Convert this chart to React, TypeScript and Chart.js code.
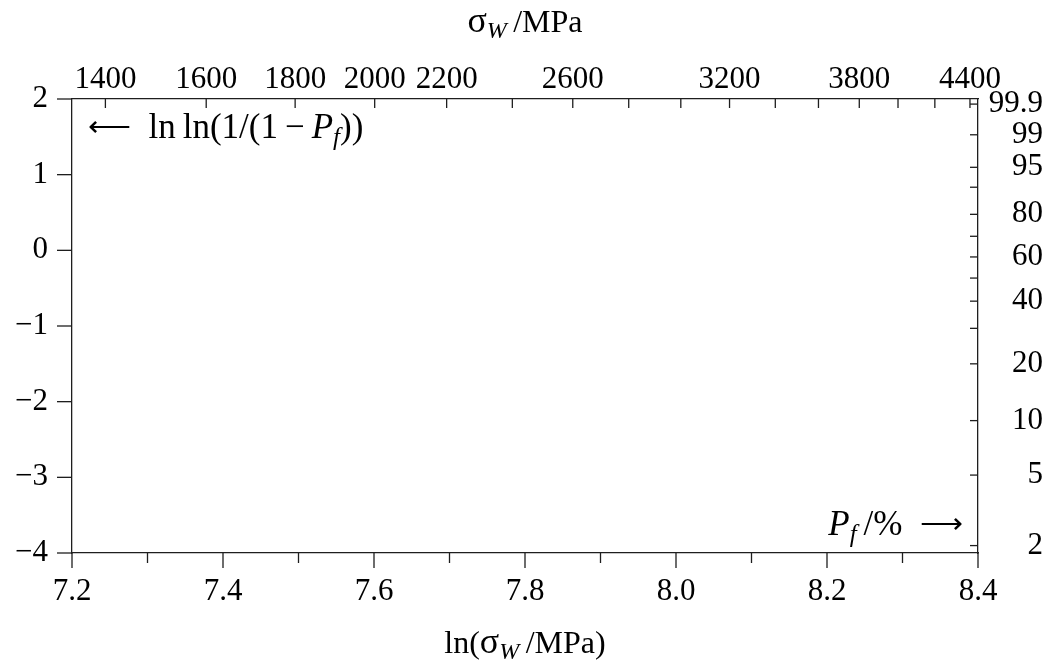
import React, { useEffect, useRef } from 'react';
import { Chart, registerables } from 'chart.js';

Chart.register(...registerables);

// Bottom axis: ln(σ_W / MPa)
const lnSigmaRange = [7.2, 8.4];
const lnSigmaMajorTicks = [7.2, 7.4, 7.6, 7.8, 8.0, 8.2, 8.4];
const lnSigmaMinorTicks = [7.3, 7.5, 7.7, 7.9, 8.1, 8.3];

// Left axis: ln ln(1/(1 - P_f))
const lnlnRange = [-4, 2];
const lnlnTicks = [-4, -3, -2, -1, 0, 1, 2];

// Top axis: σ_W / MPa
const sigmaTicks = [1400, 1600, 1800, 2000, 2200, 2400, 2600, 2800, 3000, 3200, 3400, 3600, 3800, 4000, 4200, 4400];
const sigmaLabels = [1400, 1600, 1800, 2000, 2200, 2600, 3200, 3800, 4400];

// Right axis: P_f / %
const probTicks = [2, 5, 10, 20, 30, 40, 50, 60, 70, 80, 90, 95, 99, 99.9];
const probLabels = [2, 5, 10, 20, 40, 60, 80, 95, 99, 99.9];

const FONT = "'Liberation Serif', 'Times New Roman', Times, serif";
const LINE = '#1e1e1e';
const FS = 31;

const toLnln = (p: number) => Math.log(Math.log(1 / (1 - p / 100)));

type Part = { t: string; it?: boolean; sub?: boolean; size?: number; dy?: number };

function drawRich(ctx: CanvasRenderingContext2D, parts: Part[], x: number, y: number, align: 'left' | 'center' | 'right', size: number, subScale = 0.72) {
  const sz = (p: Part) => p.size ?? (p.sub ? Math.round(size * subScale) : size);
  const fontFor = (p: Part) => `${p.it ? 'italic ' : ''}${sz(p)}px ${FONT}`;
  let w = 0;
  for (const p of parts) {
    ctx.font = fontFor(p);
    w += ctx.measureText(p.t).width;
  }
  let cx = align === 'left' ? x : align === 'center' ? x - w / 2 : x - w;
  ctx.textAlign = 'left';
  ctx.textBaseline = 'alphabetic';
  ctx.fillStyle = '#000';
  for (const p of parts) {
    ctx.font = fontFor(p);
    ctx.fillText(p.t, cx, y + (p.sub ? size * 0.2 : 0) + (p.dy ?? 0));
    cx += ctx.measureText(p.t).width;
  }
}

const decorPlugin = {
  id: 'decor',
  afterDraw(chart: any) {
    const { ctx, chartArea: ca, scales } = chart;
    ctx.save();
    ctx.strokeStyle = LINE;
    ctx.lineWidth = 1.3;
    const line = (x0: number, y0: number, x1: number, y1: number) => {
      ctx.beginPath();
      ctx.moveTo(x0, y0);
      ctx.lineTo(x1, y1);
      ctx.stroke();
    };
    // left ticks (outward)
    for (const v of lnlnTicks) {
      const y = scales.y.getPixelForValue(v);
      line(ca.left - 15, y, ca.left, y);
    }
    // bottom ticks (outward)
    for (const v of lnSigmaMajorTicks) {
      const x = scales.x.getPixelForValue(v);
      line(x, ca.bottom, x, ca.bottom + 15);
    }
    for (const v of lnSigmaMinorTicks) {
      const x = scales.x.getPixelForValue(v);
      line(x, ca.bottom, x, ca.bottom + 10);
    }
    // top ticks (inward)
    for (const s of sigmaTicks) {
      const x = scales.x2.getPixelForValue(Math.log(s));
      line(x, ca.top, x, ca.top + 9);
    }
    // right ticks (inward)
    for (const p of probTicks) {
      const y = scales.y2.getPixelForValue(toLnln(p));
      line(ca.right - 8, y, ca.right, y);
    }

    const cxm = (ca.left + ca.right) / 2;
    // axis titles
    drawRich(ctx, [{ t: 'σ', size: 36 }, { t: 'W', it: true, sub: true }, { t: '\u2009/MPa' }], cxm, 32, 'center', 32, 0.75);
    drawRich(ctx, [{ t: 'ln(' }, { t: 'σ', size: 36 }, { t: 'W', it: true, sub: true }, { t: '\u2009/MPa)' }], cxm, 653, 'center', 32, 0.75);

    // in-plot annotations
    drawRich(
      ctx,
      [
        { t: '\u27F5', size: 30, dy: -2 },
        { t: '\u2002ln\u2009ln(1/(1\u2009\u2212\u2009' },
        { t: 'P', it: true },
        { t: 'f', it: true, sub: true },
        { t: '))' },
      ],
      ca.left + 16,
      138,
      'left',
      35,
      0.7
    );
    drawRich(
      ctx,
      [{ t: 'P', it: true }, { t: 'f', it: true, sub: true }, { t: '\u2009/%\u2002' }, { t: '\u27F6', size: 30, dy: -2 }],
      ca.right - 15,
      535,
      'right',
      35,
      0.7
    );
    ctx.restore();
  },
};

export default function App() {
  const ref = useRef<HTMLCanvasElement>(null);
  useEffect(() => {
    const tickFont = { family: FONT, size: FS };
    const common = {
      type: 'linear' as const,
      grid: { display: false, drawTicks: false, tickLength: 0 },
      border: { display: true, color: LINE, width: 1.3 },
    };
    const chart = new Chart(ref.current as HTMLCanvasElement, {
      type: 'scatter',
      data: { datasets: [{ data: [], xAxisID: 'x', yAxisID: 'y' }] },
      options: {
        animation: false,
        responsive: false,
        devicePixelRatio: 1,
        layout: { padding: { left: 0, right: 7, top: 0, bottom: 0 } },
        plugins: { legend: { display: false }, tooltip: { enabled: false } },
        scales: {
          x: {
            ...common,
            position: 'bottom',
            min: lnSigmaRange[0],
            max: lnSigmaRange[1],
            afterBuildTicks: (s: any) => {
              s.ticks = lnSigmaMajorTicks.map((v) => ({ value: v }));
            },
            afterFit: (s: any) => {
              s.height = 113;
            },
            ticks: {
              font: tickFont,
              color: '#000',
              padding: 20,
              autoSkip: false,
              maxRotation: 0,
              callback: (v: any) => Number(v).toFixed(1),
            },
          },
          x2: {
            ...common,
            axis: 'x',
            position: 'top',
            min: lnSigmaRange[0],
            max: lnSigmaRange[1],
            afterBuildTicks: (s: any) => {
              s.ticks = sigmaTicks.map((v) => ({ value: Math.log(v) }));
            },
            afterFit: (s: any) => {
              s.height = 99;
            },
            ticks: {
              font: tickFont,
              color: '#000',
              padding: 1,
              autoSkip: false,
              maxRotation: 0,
              callback: (_v: any, i: number) => (sigmaLabels.includes(sigmaTicks[i]) ? String(sigmaTicks[i]) : ''),
            },
          },
          y: {
            ...common,
            position: 'left',
            min: lnlnRange[0],
            max: lnlnRange[1],
            afterBuildTicks: (s: any) => {
              s.ticks = lnlnTicks.map((v) => ({ value: v }));
            },
            afterFit: (s: any) => {
              s.width = 72;
            },
            ticks: {
              font: tickFont,
              color: '#000',
              padding: 24,
              autoSkip: false,
              callback: (v: any) => (Number(v) < 0 ? '\u2212' + Math.abs(Number(v)) : String(v)),
            },
          },
          y2: {
            ...common,
            axis: 'y',
            position: 'right',
            min: lnlnRange[0],
            max: lnlnRange[1],
            afterBuildTicks: (s: any) => {
              s.ticks = probTicks.map((p) => ({ value: toLnln(p) }));
            },
            afterFit: (s: any) => {
              s.width = 65;
            },
            ticks: {
              font: tickFont,
              color: '#000',
              padding: 8,
              autoSkip: false,
              crossAlign: 'far',
              callback: (_v: any, i: number) => (probLabels.includes(probTicks[i]) ? String(probTicks[i]) : ''),
            },
          },
        },
      } as any,
      plugins: [decorPlugin],
    });
    return () => chart.destroy();
  }, []);
  return (
    <div style={{ position: 'fixed', left: 0, top: 0, width: 1050, height: 666, background: '#fff' }}>
      <canvas ref={ref} width={1050} height={666} style={{ display: 'block' }} />
    </div>
  );
}
